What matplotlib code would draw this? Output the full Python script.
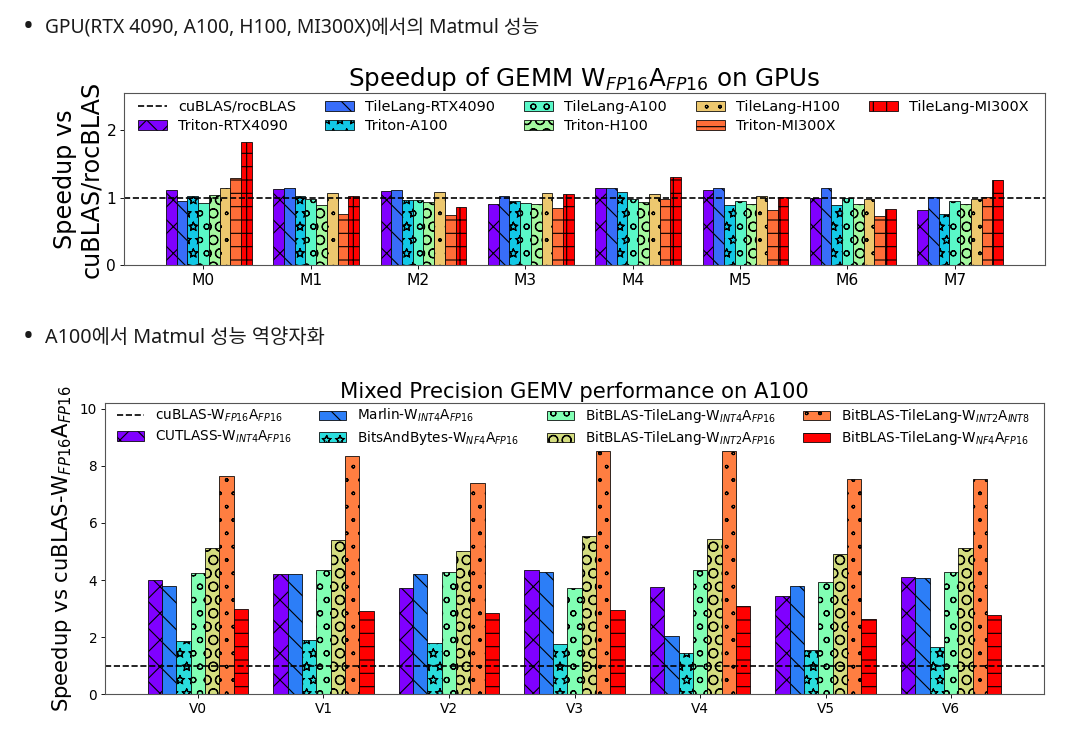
import matplotlib
matplotlib.use('Agg')
import matplotlib.pyplot as plt
import matplotlib.hatch as mhatch
import numpy as np

# outlined hatch shapes (stars / small dots), as drawn in the reference
mhatch.Stars.filled = False
mhatch.SmallFilledCircles.filled = False

W, H = 1072, 735
DPI = 80

# ---------------- Chart 1 data ----------------
gemm_cats = ['M0', 'M1', 'M2', 'M3', 'M4', 'M5', 'M6', 'M7']
gemm_series = ['Triton-RTX4090', 'TileLang-RTX4090', 'Triton-A100', 'TileLang-A100',
               'Triton-H100', 'TileLang-H100', 'Triton-MI300X', 'TileLang-MI300X']
triton_rtx4090 = [1.11, 1.13, 1.10, 0.91, 1.14, 1.12, 1.00, 0.81]
tilelang_rtx4090 = [0.95, 1.14, 1.12, 1.03, 1.14, 1.14, 1.14, 1.015]
triton_a100 = [1.03, 1.03, 0.97, 0.945, 1.08, 0.89, 0.89, 0.75]
tilelang_a100 = [0.92, 0.975, 0.965, 0.915, 0.975, 0.95, 0.995, 0.955]
triton_h100 = [1.04, 0.89, 0.93, 0.91, 0.935, 0.905, 0.91, 0.905]
tilelang_h100 = [1.14, 1.07, 1.08, 1.07, 1.05, 1.02, 0.975, 0.975]
triton_mi300x = [1.29, 0.75, 0.74, 0.85, 0.985, 0.81, 0.73, 1.01]
tilelang_mi300x = [1.82, 1.03, 0.86, 1.06, 1.30, 1.015, 0.83, 1.26]
gemm_values = [triton_rtx4090, tilelang_rtx4090, triton_a100, tilelang_a100,
               triton_h100, tilelang_h100, triton_mi300x, tilelang_mi300x]
gemm_hatches = ['x', '\\', '*', 'o', 'O', '.', '-', '+']

# ---------------- Chart 2 data ----------------
gemv_cats = ['V0', 'V1', 'V2', 'V3', 'V4', 'V5', 'V6']
gemv_series = [r'CUTLASS-W$_{INT4}$A$_{FP16}$', r'Marlin-W$_{INT4}$A$_{FP16}$',
               r'BitsAndBytes-W$_{NF4}$A$_{FP16}$', r'BitBLAS-TileLang-W$_{INT4}$A$_{FP16}$',
               r'BitBLAS-TileLang-W$_{INT2}$A$_{FP16}$', r'BitBLAS-TileLang-W$_{INT2}$A$_{INT8}$',
               r'BitBLAS-TileLang-W$_{NF4}$A$_{FP16}$']
cutlass = [4.00, 4.23, 3.74, 4.37, 3.76, 3.46, 4.10]
marlin = [3.81, 4.23, 4.20, 4.28, 2.03, 3.81, 4.09]
bitsandbytes = [1.88, 1.90, 1.78, 1.75, 1.46, 1.56, 1.67]
bitblas_int4 = [4.25, 4.34, 4.29, 3.71, 4.36, 3.95, 4.27]
bitblas_int2 = [5.14, 5.41, 5.01, 5.54, 5.45, 4.93, 5.14]
bitblas_int2_int8 = [7.63, 8.33, 7.41, 8.51, 8.51, 7.55, 7.55]
bitblas_nf4 = [2.98, 2.91, 2.83, 2.95, 3.08, 2.62, 2.79]
gemv_values = [cutlass, marlin, bitsandbytes, bitblas_int4, bitblas_int2,
               bitblas_int2_int8, bitblas_nf4]
gemv_hatches = ['x', '\\', '*', 'o', 'O', '.', '-']

bullet1 = 'GPU(RTX 4090, A100, H100, MI300X)에서의 Matmul 성능'
bullet2 = 'A100에서 Matmul 성능 역양자화'

kfont = ['Noto Sans', 'Noto Sans CJK KR', 'DejaVu Sans']

fig = plt.figure(figsize=(W / DPI, H / DPI), dpi=DPI)
fig.patch.set_facecolor('white')


def px_axes(l, t, r, b):
    return fig.add_axes([l / W, 1 - b / H, (r - l) / W, (b - t) / H])


def grouped(ax, cats, values, labels, hatches, baseline_label, ncol,
            legend_fs, tick_fs, title, title_fs, ylabel, ylabel_fs, label_x,
            ytop_factor, yticks, legend_xy, labelspacing):
    n = len(values)
    width = 0.8 / n
    x = np.arange(len(cats))
    colors = plt.cm.rainbow(np.linspace(0, 1, n))
    ax.axhline(1.0, color='black', linestyle='--', linewidth=1.5, label=baseline_label)
    for i, (vals, lab, hat) in enumerate(zip(values, labels, hatches)):
        ax.bar(x + (i - 3) * width, vals, width, color=colors[i], edgecolor='black',
               linewidth=0.7, hatch=hat, label=lab)
    ax.set_xticks(x)
    ax.set_xticklabels(cats, fontsize=tick_fs)
    ax.set_yticks(yticks)
    ax.tick_params(axis='y', labelsize=tick_fs)
    ymax = max(max(v) for v in values)
    ax.set_ylim(0, ymax * ytop_factor)
    ax.set_title(title, fontsize=title_fs, pad=4)
    ax.set_ylabel(ylabel, fontsize=ylabel_fs, va='center', linespacing=1.1)
    ax.yaxis.set_label_coords(label_x, 0.5)
    for s in ax.spines.values():
        s.set_color('#555555')
        s.set_linewidth(1.0)
    ax.legend(ncol=ncol, fontsize=legend_fs, frameon=False, loc='upper left',
              bbox_to_anchor=legend_xy, borderpad=0, borderaxespad=0,
              labelspacing=labelspacing)


ax1 = px_axes(124, 93.3, 1045, 265)
grouped(ax1, gemm_cats, gemm_values, gemm_series, gemm_hatches, 'cuBLAS/rocBLAS', 5,
        12.95, 14, r'Speedup of GEMM W$_{FP16}$A$_{FP16}$ on GPUs', 22.2,
        'Speedup vs\ncuBLAS/rocBLAS', 21.5, -0.050, 1.4, [0, 1, 2],
        (0.0152, 0.962), 0.38)

ax2 = px_axes(105, 402.7, 1044, 694.3)
grouped(ax2, gemv_cats, gemv_values, gemv_series, gemv_hatches,
        r'cuBLAS-W$_{FP16}$A$_{FP16}$', 4, 12.25, 12.3,
        'Mixed Precision GEMV performance on A100', 19.0,
        r'Speedup vs cuBLAS-W$_{FP16}$A$_{FP16}$', 19.0, -0.0458, 1.2,
        [0, 2, 4, 6, 8, 10], (0.0128, 0.985), 0.3)

# bullet texts
for yy, txt, fs in [(27, bullet1, 17.3), (338, bullet2, 17.8)]:
    fig.text(28 / W, 1 - yy / H, '•', family=kfont, fontsize=26, color='#1a1a1a',
             ha='center', va='center')
    fig.text(45 / W, 1 - yy / H, txt, family=kfont, fontsize=fs, color='#1a1a1a',
             ha='left', va='center')

fig.savefig('out.png', dpi=DPI, facecolor='white')
